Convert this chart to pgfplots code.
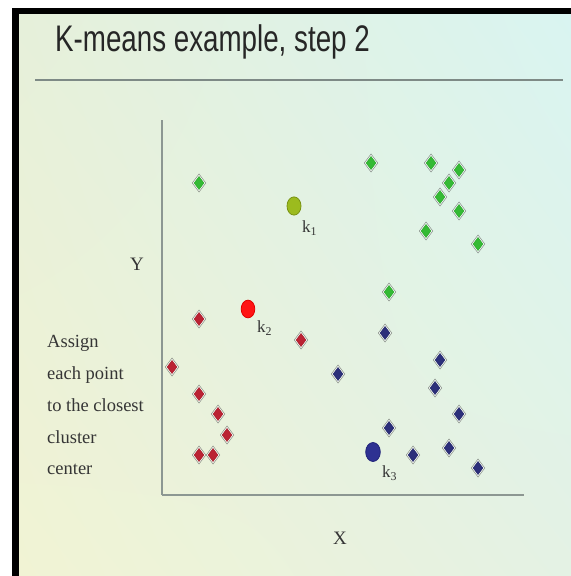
\documentclass[border=0pt]{standalone}
\usepackage{pgfplots}
\pgfplotsset{compat=1.18}
\usetikzlibrary{shadings}
\usepackage{fontspec}
\setmainfont{Liberation Serif}
\newfontfamily\arialfont{Liberation Sans}

\definecolor{bgTL}{HTML}{E6F0DA}
\definecolor{bgTR}{HTML}{D9F4F1}
\definecolor{bgBL}{HTML}{F1F3D4}
\definecolor{bgBR}{HTML}{E4F2E4}
\definecolor{ruleGray}{HTML}{7E8A86}
\definecolor{axisGray}{HTML}{8C9792}
\definecolor{ptGreen}{HTML}{34BA34}
\definecolor{ptGreenD}{HTML}{2AA32A}
\definecolor{ptRed}{HTML}{BB2233}
\definecolor{ptRedD}{HTML}{A51A2A}
\definecolor{ptBlue}{HTML}{2C2F7A}
\definecolor{ptBlueD}{HTML}{24276A}
\definecolor{kOne}{HTML}{9CBB1E}
\definecolor{kOneD}{HTML}{7A9414}
\definecolor{kTwo}{HTML}{FF1414}
\definecolor{kTwoD}{HTML}{E00000}
\definecolor{kThree}{HTML}{2E3192}
\definecolor{kThreeD}{HTML}{22257A}
\definecolor{txtGray}{HTML}{353535}

% cluster members
\pgfplotstableread{
x y
37 312
209 332
269 332
297 325
287 312
278 298
297 284
264 264
316 251
227 203
}\greenpts
\pgfplotstableread{
x y
37 176
139 155
10 128
37 101
56 81
65 60
37 40
51 40
}\redpts
\pgfplotstableread{
x y
223 162
176 121
278 135
273 107
297 81
227 67
251 40
287 47
316 27
}\bluepts

\begin{document}
\begin{tikzpicture}
\useasboundingbox (0,0) rectangle (571bp,576bp);
\fill[white] (0,0) rectangle (571bp,576bp);
\shade[upper left=bgTL, upper right=bgTR, lower left=bgBL, lower right=bgBR]
  (19bp,0) rectangle (571bp,562bp);
% slide frame
\fill[black] (12bp,0) rectangle (19bp,568bp);
\fill[black] (12bp,562bp) rectangle (571bp,568bp);
% title and rule
\node[anchor=base west, inner sep=0pt, xscale=0.75, text=black!85,
      font=\arialfont\fontsize{37bp}{40bp}\selectfont]
  at (55bp,524.5bp) {K-means example, step 2};
\draw[ruleGray, line width=2bp] (35bp,496bp) -- (563bp,496bp);
% side texts
\node[anchor=center, inner sep=0pt, text=txtGray, font=\fontsize{19bp}{22bp}\selectfont]
  at (137bp,312bp) {Y};
\node[anchor=center, inner sep=0pt, text=txtGray, font=\fontsize{19bp}{22bp}\selectfont]
  at (340bp,38bp) {X};
\node[anchor=base west, inner sep=0pt, align=left, text=txtGray,
      font=\fontsize{18.5bp}{31.8bp}\selectfont]
  at (47bp,101bp) {Assign\\each point\\to the closest\\cluster\\center};

\begin{axis}[
  at={(162bp,81bp)}, anchor=origin,
  x=1bp, y=1bp,
  xmin=0, xmax=362, ymin=0, ymax=375,
  axis x line=bottom, axis y line=left,
  axis line style={-, draw=axisGray, line width=1.8bp},
  xtick=\empty, ytick=\empty,
  clip=false,
]
% soft halos
\addplot[only marks, mark=diamond*, mark size=9bp, mark options={draw=none, fill=white, opacity=0.5}]
  table {\greenpts};
\addplot[only marks, mark=diamond*, mark size=9bp, mark options={draw=none, fill=white, opacity=0.5}]
  table {\redpts};
\addplot[only marks, mark=diamond*, mark size=9bp, mark options={draw=none, fill=white, opacity=0.5}]
  table {\bluepts};
% points
\addplot[only marks, mark=diamond*, mark size=6.5bp, mark options={draw=ptGreenD, fill=ptGreen, line width=0.4bp}]
  table {\greenpts};
\addplot[only marks, mark=diamond*, mark size=6.5bp, mark options={draw=ptRedD, fill=ptRed, line width=0.4bp}]
  table {\redpts};
\addplot[only marks, mark=diamond*, mark size=6.5bp, mark options={draw=ptBlueD, fill=ptBlue, line width=0.4bp}]
  table {\bluepts};
% cluster centers
\addplot[only marks, mark=*, mark size=7bp, mark options={draw=kOneD, fill=kOne, line width=0.8bp, yscale=1.3}]
  coordinates {(132,289)};
\addplot[only marks, mark=*, mark size=6.8bp, mark options={draw=kTwoD, fill=kTwo, line width=0.8bp, yscale=1.3}]
  coordinates {(86,186)};
\addplot[only marks, mark=*, mark size=7.3bp, mark options={draw=kThreeD, fill=kThree, line width=0.8bp, yscale=1.3}]
  coordinates {(211,43)};
\node[anchor=base west, inner sep=0pt, text=txtGray, font=\fontsize{17bp}{19bp}\selectfont]
  at (axis cs:140,262) {k\textsubscript{1}};
\node[anchor=base west, inner sep=0pt, text=txtGray, font=\fontsize{17bp}{19bp}\selectfont]
  at (axis cs:95,162) {k\textsubscript{2}};
\node[anchor=base west, inner sep=0pt, text=txtGray, font=\fontsize{17bp}{19bp}\selectfont]
  at (axis cs:220,17) {k\textsubscript{3}};
\end{axis}
\end{tikzpicture}
\end{document}
